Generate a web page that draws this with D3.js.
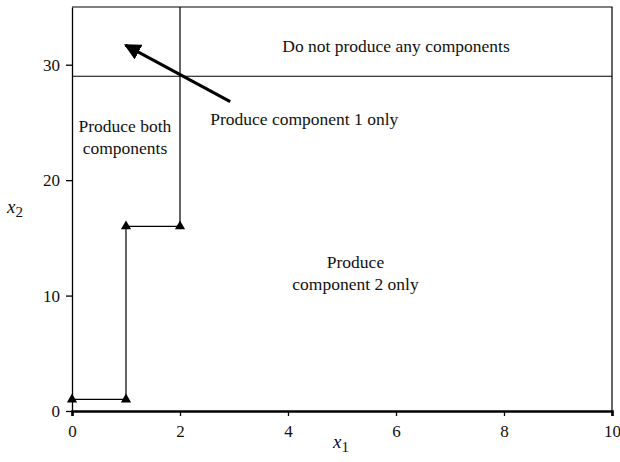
<!DOCTYPE html>
<html>
<head>
    <meta charset='utf-8'>
    <title>Production regions</title>
    <style>
        body { margin: 0; background: #fff; }
        svg { display: block; }
        svg text { font-family: 'Liberation Serif', 'Times New Roman', serif; }
    </style>
</head>
<body>
<svg width="620" height="462"></svg>
<script src="https://d3js.org/d3.v7.min.js"></script>
<script>
    const width = 620
    const height = 462

    // boundary of the "produce both" region (step path with triangle markers)
    const stepX = [0, 1, 1, 2, 2]
    const stepY = [1, 1, 16, 16, 35]
    const markerX = [0, 1, 1, 2]
    const markerY = [1, 1, 16, 16]

    // horizontal threshold for component 1
    const thresholdY = 29

    const xTicks = [0, 2, 4, 6, 8, 10]
    const yTicks = [0, 10, 20, 30]

    // arrow from label to the small region (data coordinates)
    const arrowFrom = [2.93, 26.8]
    const arrowTo = [0.99, 31.7]

    const regionLabels = [
        {lines: ["Do not produce any components"], x: 6.0, y: 31.1, anchor: "middle"},
        {lines: ["Produce component 1 only"], x: 2.56, y: 24.8, anchor: "start"},
        {lines: ["Produce both", "components"], x: 0.98, y: 24.2, anchor: "middle"},
        {lines: ["Produce", "component 2 only"], x: 5.25, y: 12.4, anchor: "middle"}
    ]

    const margin = {top: 7, right: 8, bottom: 51, left: 72}

    const x = d3.scaleLinear()
        .domain([0, 10])
        .range([margin.left, width - margin.right])

    const y = d3.scaleLinear()
        .domain([0, 35])
        .range([height - margin.bottom, margin.top])

    const svg = d3.select("svg")
        .attr("viewBox", [0, 0, width, height])

    svg.append("defs").append("marker")
        .attr("id", "head")
        .attr("viewBox", "0 0 10 10")
        .attr("refX", 9)
        .attr("refY", 5)
        .attr("markerWidth", 5.5)
        .attr("markerHeight", 5.5)
        .attr("markerUnits", "strokeWidth")
        .attr("orient", "auto")
        .append("path")
        .attr("d", "M0,0L10,5L0,10Z")
        .attr("fill", "#000")

    // frame: top and right edges
    svg.append("path")
        .attr("d", `M${x(0)},${y(35)}H${x(10)}V${y(0)}`)
        .attr("fill", "none")
        .attr("stroke", "#000")
        .attr("stroke-width", 1.2)

    // axes
    svg.append("g")
        .attr("transform", `translate(0,${y(0)})`)
        .call(d3.axisBottom(x).tickValues(xTicks).tickSize(5).tickPadding(9).tickFormat(d3.format("d")))
        .attr("font-size", 17)
        .call(g => g.select(".domain").attr("stroke-width", 2.6))
        .call(g => g.selectAll(".tick line").attr("stroke-width", 1.3))
        .call(g => g.selectAll("text").attr("fill", "#111"))

    svg.append("g")
        .attr("transform", `translate(${x(0)},0)`)
        .call(d3.axisLeft(y).tickValues(yTicks).tickSize(6).tickPadding(6).tickSizeOuter(0))
        .attr("font-size", 17)
        .call(g => g.select(".domain").attr("stroke-width", 1.3))
        .call(g => g.selectAll(".tick line").attr("stroke-width", 1.3))
        .call(g => g.selectAll("text").attr("fill", "#111"))

    // threshold line
    svg.append("line")
        .attr("x1", x(0)).attr("x2", x(10))
        .attr("y1", y(thresholdY)).attr("y2", y(thresholdY))
        .attr("stroke", "#000")
        .attr("stroke-width", 1.2)

    // step boundary
    const line = d3.line()
        .x((d, i) => x(stepX[i]))
        .y((d, i) => y(stepY[i]))

    svg.append("path")
        .datum(stepX)
        .attr("d", line)
        .attr("fill", "none")
        .attr("stroke", "#000")
        .attr("stroke-width", 1.2)

    svg.append("g")
        .selectAll("path")
        .data(markerX)
        .join("path")
        .attr("transform", (d, i) => `translate(${x(markerX[i])},${y(markerY[i])})`)
        .attr("d", d3.symbol(d3.symbolTriangle, 45))
        .attr("fill", "#000")

    // arrow
    svg.append("line")
        .attr("x1", x(arrowFrom[0])).attr("y1", y(arrowFrom[1]))
        .attr("x2", x(arrowTo[0])).attr("y2", y(arrowTo[1]))
        .attr("stroke", "#000")
        .attr("stroke-width", 3)
        .attr("marker-end", "url(#head)")

    // region labels
    regionLabels.forEach(lab => {
        const t = svg.append("text")
            .attr("x", x(lab.x))
            .attr("y", y(lab.y))
            .attr("text-anchor", lab.anchor)
            .attr("font-size", 17.5)
            .attr("fill", "#111")
        lab.lines.forEach((s, i) => {
            t.append("tspan")
                .attr("x", x(lab.x))
                .attr("dy", i === 0 ? 0 : 22.5)
                .text(s)
        })
    })

    // axis titles
    const xt = svg.append("text")
        .attr("x", 333)
        .attr("y", 448)
        .attr("font-size", 19)
        .attr("fill", "#111")
    xt.append("tspan").attr("font-style", "italic").text("x")
    xt.append("tspan").attr("font-size", 15).attr("dy", 4).text("1")

    const yt = svg.append("text")
        .attr("x", 7)
        .attr("y", 213)
        .attr("font-size", 19)
        .attr("fill", "#111")
    yt.append("tspan").attr("font-style", "italic").text("x")
    yt.append("tspan").attr("font-size", 15).attr("dy", 4).text("2")
</script>
</body>
</html>
